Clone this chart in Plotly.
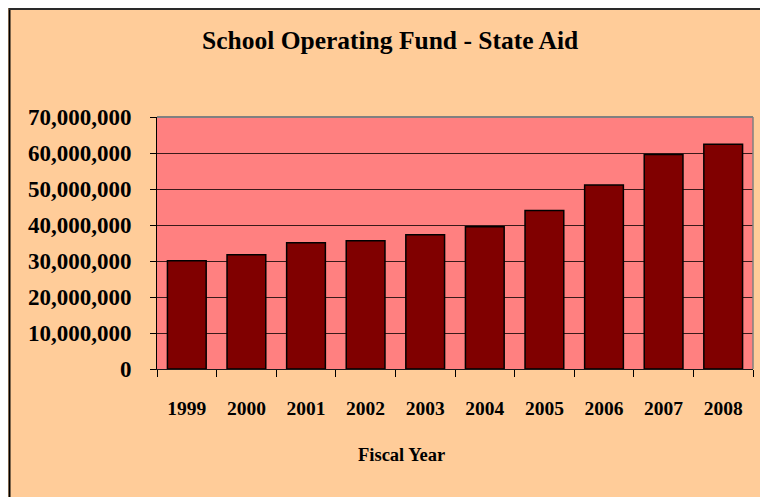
import plotly.graph_objects as go

years = ["1999", "2000", "2001", "2002", "2003", "2004", "2005", "2006", "2007", "2008"]
state_aid = [30100000, 31750000, 35100000, 35600000, 37300000, 39500000, 44000000, 51100000, 59600000, 62400000]
y_ticks = [0, 10000000, 20000000, 30000000, 40000000, 50000000, 60000000, 70000000]

# page body has an 8px margin, so the figure starts at (8, 8) in the window
OFF = 8
W, H = 768, 497
PLOT_L, PLOT_R, PLOT_T, PLOT_B = 157, 753, 117, 369   # window pixels
L = PLOT_L - OFF
T = PLOT_T - OFF
R = W - (PLOT_R - OFF)
B = H - (PLOT_B - OFF)
PW = PLOT_R - PLOT_L
PH = PLOT_B - PLOT_T

def px_x(p):  # window pixel -> paper fraction
    return (p - PLOT_L) / PW

def px_y(p):
    return (PLOT_B - p) / PH

FONT = "Liberation Serif, Times New Roman, serif"

fig = go.Figure(
    go.Bar(
        x=years,
        y=state_aid,
        marker=dict(color="#800000", line=dict(color="#000000", width=1.5)),
    )
)

fig.update_layout(
    width=W,
    height=H,
    margin=dict(l=L, r=R, t=T, b=B, pad=0),
    paper_bgcolor="#FFCC99",
    plot_bgcolor="#FF8080",
    bargap=0.35,
    showlegend=False,
    font=dict(family=FONT, color="#000000"),
)

fig.update_xaxes(
    type="category",
    showgrid=False,
    showline=True,
    linecolor="#1a1a1a",
    linewidth=1,
    ticks="outside",
    ticklen=7,
    tickcolor="#000000",
    tickson="boundaries",
    tickfont=dict(family=FONT, size=19.5, weight="bold", color="#000000"),
    ticklabelstandoff=22,
)

fig.update_yaxes(
    range=[0, 70000000],
    tickvals=y_ticks,
    tickformat=",d",
    showgrid=True,
    gridcolor="#3a1a1a",
    gridwidth=1,
    showline=True,
    linecolor="#000000",
    linewidth=1,
    ticks="outside",
    ticklen=6,
    tickcolor="#000000",
    tickfont=dict(family=FONT, size=23, weight="bold", color="#000000"),
    ticklabelstandoff=14,
    zeroline=False,
)

shapes = [
    # black frame lines (left and top)
    dict(type="line", xref="paper", yref="paper", x0=px_x(9.5), x1=px_x(9.5), y0=px_y(8), y1=px_y(520),
         line=dict(color="#000000", width=2), layer="above"),
    dict(type="line", xref="paper", yref="paper", x0=px_x(9), x1=px_x(790), y0=px_y(9), y1=px_y(9),
         line=dict(color="#2a2a2a", width=2), layer="above"),
    # gray plot-area border top and right
    dict(type="line", xref="paper", yref="paper", x0=0, x1=1, y0=1, y1=1,
         line=dict(color="#808080", width=2), layer="above"),
    dict(type="line", xref="paper", yref="paper", x0=1, x1=1, y0=0, y1=1,
         line=dict(color="#808080", width=1.5), layer="above"),
]
fig.update_layout(shapes=shapes)

fig.add_annotation(
    text="School Operating Fund - State Aid",
    xref="paper", yref="paper",
    x=px_x(390), y=px_y(41),
    xanchor="center", yanchor="middle",
    showarrow=False,
    font=dict(family=FONT, size=25.5, weight="bold", color="#000000"),
)
fig.add_annotation(
    text="Fiscal Year",
    xref="paper", yref="paper",
    x=px_x(401), y=px_y(455),
    xanchor="center", yanchor="middle",
    showarrow=False,
    font=dict(family=FONT, size=18.5, weight="bold", color="#000000"),
)

fig.write_html("out.html")
